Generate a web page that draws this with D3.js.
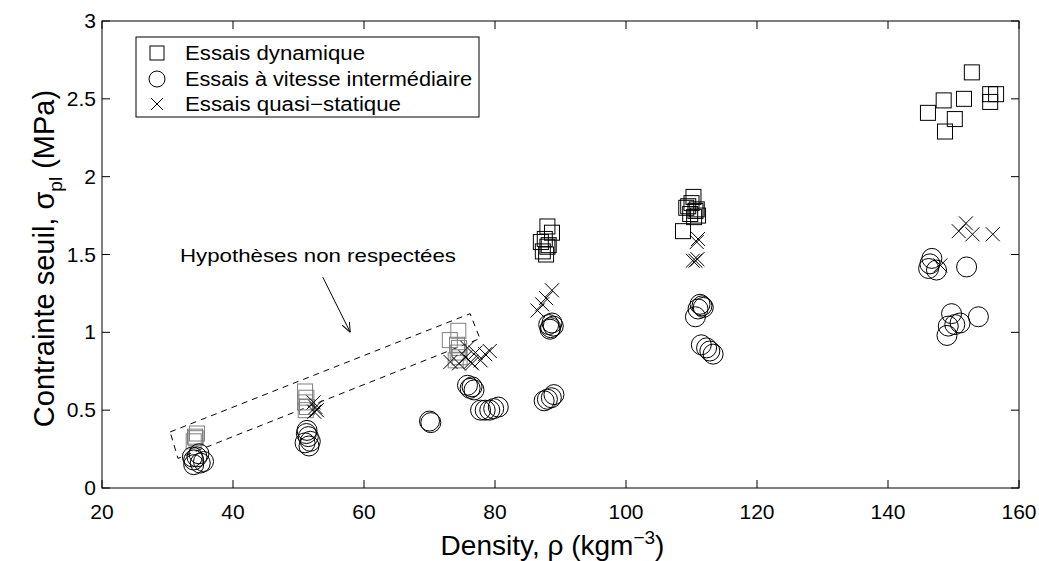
<!DOCTYPE html>
<meta charset="utf-8">
<script src="https://d3js.org/d3.v7.min.js"></script>
<style>
  body { margin: 0; background: #fff; }
  text { font-family: "Liberation Sans", Arial, sans-serif; fill: #000; }
</style>
<div id="chart"></div>
<script>
// data: [density, stress]
const dynamicValid = [
  [88.0,1.68],[88.7,1.64],[87.0,1.58],[87.6,1.60],[88.2,1.56],[87.3,1.52],[87.8,1.50],[88.0,1.55],
  [110.3,1.87],[110.0,1.83],[109.5,1.81],[110.6,1.78],[109.8,1.76],[110.4,1.74],[111.0,1.75],[109.2,1.80],[108.7,1.65],[110.8,1.79],
  [152.8,2.67],[148.5,2.49],[151.6,2.50],[146.1,2.41],[150.2,2.37],[148.7,2.29],[155.6,2.53],[156.5,2.53],[155.6,2.48]
];
const dynamicInvalid = [
  [34.2,0.33],[34.5,0.35],[34.0,0.30],[34.3,0.32],
  [51.0,0.62],[51.2,0.58],[51.0,0.55],[51.3,0.52],[51.1,0.50],
  [74.4,1.01],[73.1,0.95],[74.2,0.92],[74.5,0.90],[74.3,0.87],[74.6,0.84],[74.0,0.82]
];
const intermediate = [
  [34.0,0.18],[34.5,0.20],[35.0,0.16],[34.0,0.15],[35.5,0.17],[34.8,0.22],[33.8,0.20],
  [51.3,0.37],[51.5,0.33],[51.0,0.29],[51.6,0.27],[51.8,0.30],[51.2,0.35],
  [70.0,0.43],[70.2,0.42],
  [75.8,0.66],[76.2,0.64],[76.5,0.65],[76.8,0.63],
  [77.8,0.50],[78.5,0.50],[79.2,0.50],[79.8,0.51],[80.5,0.52],
  [88.2,1.05],[88.5,1.03],[88.7,1.06],[88.4,1.02],[88.9,1.04],
  [87.5,0.56],[88.0,0.57],[88.6,0.58],[89.0,0.60],
  [111.3,1.18],[111.6,1.17],[111.0,1.15],[110.6,1.10],[111.8,1.16],
  [111.5,0.92],[112.3,0.90],[112.8,0.88],[113.3,0.86],
  [146.7,1.475],[146.4,1.44],[146.2,1.41],[147.4,1.40],[152.0,1.42],
  [149.7,1.12],[153.8,1.10],[150.2,1.05],[149.2,1.04],[149.0,0.98],[151.0,1.06]
];
const quasiStatic = [
  [52.3,0.55],[52.6,0.52],[52.4,0.49],[52.8,0.50],
  [73.2,0.81],[74.5,0.80],[75.5,0.84],[76.3,0.81],[77.0,0.87],[77.8,0.82],[78.5,0.86],[79.2,0.88],[76.5,0.80],[75.8,0.90],
  [88.7,1.27],[87.8,1.22],[87.2,1.18],[86.5,1.14],
  [111.0,1.60],[110.8,1.58],[110.2,1.46],[110.6,1.46],[110.9,1.47],
  [151.9,1.70],[150.8,1.65],[152.9,1.63],[156.0,1.63],[148.0,1.43]
];
const xTicks = [20, 40, 60, 80, 100, 120, 140, 160];
const yTicks = [0, 0.5, 1, 1.5, 2, 2.5, 3];
const legendLabels = ["Essais dynamique", "Essais à vitesse intermédiaire", "Essais quasi\u2212statique"];
const note = "Hypothèses non respectées";
const noteBox = [[30.4,0.36],[76.2,1.12],[77.7,0.96],[31.6,0.19]];
const noteArrow = [[53.7,1.355],[57.9,1.0]];

const W = 1039, H = 561;
const margin = {top: 21, right: 20, bottom: 73, left: 102},
    width = W - margin.left - margin.right,
    height = H - margin.top - margin.bottom;

const svg = d3.select("#chart").append("svg")
    .attr("width", W).attr("height", H)
  .append("g")
    .attr("transform", `translate(${margin.left},${margin.top})`);

const x = d3.scaleLinear().domain([20, 160]).range([0, width]);
const y = d3.scaleLinear().domain([0, 3]).range([height, 0]);

// ticks pointing inward on all four sides
const tk = 8;
const axes = svg.append("g").attr("stroke", "#000").attr("stroke-width", 1);
xTicks.forEach(t => {
  axes.append("line").attr("x1", x(t)).attr("x2", x(t)).attr("y1", height).attr("y2", height - tk);
  axes.append("line").attr("x1", x(t)).attr("x2", x(t)).attr("y1", 0).attr("y2", tk);
});
yTicks.forEach(t => {
  axes.append("line").attr("x1", 0).attr("x2", tk).attr("y1", y(t)).attr("y2", y(t));
  axes.append("line").attr("x1", width).attr("x2", width - tk).attr("y1", y(t)).attr("y2", y(t));
});
axes.append("rect").attr("width", width).attr("height", height).attr("fill", "none");

svg.append("g").selectAll("text").data(xTicks).join("text")
    .attr("x", d => x(d)).attr("y", height + 31)
    .attr("text-anchor", "middle").attr("font-size", 21)
    .text(d => d);
svg.append("g").selectAll("text").data(yTicks).join("text")
    .attr("x", -6).attr("y", d => y(d) + 7)
    .attr("text-anchor", "end").attr("font-size", 21)
    .text(d => d);

// axis titles
const xl = svg.append("text")
    .attr("x", width / 2 - 8).attr("y", height + 67)
    .attr("text-anchor", "middle").attr("font-size", 28);
xl.append("tspan").text("Density, \u03C1 (kgm");
xl.append("tspan").attr("font-size", 19).attr("dy", -11).text("\u22123");
xl.append("tspan").attr("dy", 11).text(")");

const yl = svg.append("text")
    .attr("transform", `translate(${-48},${height / 2 + 4}) rotate(-90)`)
    .attr("text-anchor", "middle").attr("font-size", 29);
yl.append("tspan").text("Contrainte seuil, \u03C3");
yl.append("tspan").attr("font-size", 19).attr("dy", 8).text("pl");
yl.append("tspan").attr("dy", -8).text(" (MPa)");

// annotation box and arrow
svg.append("path")
    .datum(noteBox)
    .attr("fill", "none").attr("stroke", "#000").attr("stroke-dasharray", "6,5")
    .attr("d", d3.line().x(d => x(d[0])).y(d => y(d[1])).curve(d3.curveLinearClosed));

svg.append("defs").append("marker")
    .attr("id", "arr").attr("viewBox", "0 0 10 10").attr("refX", 10).attr("refY", 5)
    .attr("markerWidth", 10).attr("markerHeight", 10).attr("orient", "auto")
    .attr("markerUnits", "userSpaceOnUse")
  .append("path").attr("d", "M0,1 L10,5 L0,9").attr("fill", "none").attr("stroke", "#000");
svg.append("line")
    .attr("x1", x(noteArrow[0][0])).attr("y1", y(noteArrow[0][1]))
    .attr("x2", x(noteArrow[1][0])).attr("y2", y(noteArrow[1][1]))
    .attr("stroke", "#000").attr("marker-end", "url(#arr)");
svg.append("text")
    .attr("x", 78).attr("y", 241).attr("font-size", 19)
    .attr("textLength", 276).attr("lengthAdjust", "spacingAndGlyphs")
    .text(note);

// markers
const sq = 15, cr = 10, xs = 7;
svg.append("g").selectAll("rect").data(dynamicInvalid).join("rect")
    .attr("x", d => x(d[0]) - sq / 2).attr("y", d => y(d[1]) - sq / 2)
    .attr("width", sq).attr("height", sq)
    .attr("fill", "none").attr("stroke", "#808080");
svg.append("g").selectAll("rect").data(dynamicValid).join("rect")
    .attr("x", d => x(d[0]) - sq / 2).attr("y", d => y(d[1]) - sq / 2)
    .attr("width", sq).attr("height", sq)
    .attr("fill", "none").attr("stroke", "#000");
svg.append("g").selectAll("circle").data(intermediate).join("circle")
    .attr("cx", d => x(d[0])).attr("cy", d => y(d[1])).attr("r", cr)
    .attr("fill", "none").attr("stroke", "#000");
svg.append("g").selectAll("path").data(quasiStatic).join("path")
    .attr("d", d => {
      const px = x(d[0]), py = y(d[1]);
      return `M${px - xs},${py - xs}L${px + xs},${py + xs}M${px - xs},${py + xs}L${px + xs},${py - xs}`;
    })
    .attr("stroke", "#000").attr("fill", "none");

// legend
const lg = svg.append("g").attr("transform", "translate(34,16)");
lg.append("rect").attr("width", 343).attr("height", 80)
    .attr("fill", "#fff").attr("stroke", "#000");
const rowY = [16, 42, 67], mx = 21;
const labLen = [180, 287, 216];
lg.append("rect").attr("x", mx - 7).attr("y", rowY[0] - 7).attr("width", 14).attr("height", 14)
    .attr("fill", "none").attr("stroke", "#000");
lg.append("circle").attr("cx", mx).attr("cy", rowY[1]).attr("r", 8)
    .attr("fill", "none").attr("stroke", "#000");
lg.append("path").attr("d", `M${mx - 6},${rowY[2] - 6}L${mx + 6},${rowY[2] + 6}M${mx - 6},${rowY[2] + 6}L${mx + 6},${rowY[2] - 6}`)
    .attr("stroke", "#000");
lg.selectAll("text.lab").data(legendLabels).join("text")
    .attr("class", "lab")
    .attr("x", 49).attr("y", (d, i) => rowY[i] + 7)
    .attr("font-size", 20)
    .attr("textLength", (d, i) => labLen[i]).attr("lengthAdjust", "spacingAndGlyphs")
    .text(d => d);
</script>
